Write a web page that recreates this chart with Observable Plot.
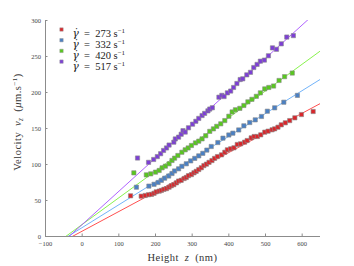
<!DOCTYPE html>
<html><head><meta charset="utf-8">
<script src="https://cdn.jsdelivr.net/npm/d3@7"></script>
<script src="https://cdn.jsdelivr.net/npm/@observablehq/plot@0.6"></script>
<style>
body{margin:0;background:#fff;}
#chart svg{display:block;}
#chart svg, #chart svg text, #chart svg tspan {font-family: "Liberation Serif", "DejaVu Serif", serif !important;}
#chart svg tspan.gam {font-family: "DejaVu Serif", serif !important;}
</style></head><body><div id="chart"></div>
<script>
const shearRates = ["273", "332", "420", "517"];
const markerColors = ["#d9262b", "#4a80c4", "#58c81e", "#7d3fd6"];
const lineColors = ["#ff3b3b", "#62aaf8", "#7cf03a", "#a650ff"];
const fitSlope = [0.273, 0.317, 0.371, 0.462];
const fitIntercept = [7.4, 12.4, 16.7, 16.6];
const xTicks = [-100, 0, 100, 200, 300, 400, 500, 600];
const yTicks = [0, 50, 100, 150, 200, 250, 300];
const xDomain = [-100, 650];
const yDomain = [0, 300];

const zRed = [132,161,172,181,189,196,202,210,216,223,230,237,243,250,257,263,270,278,284,290,298,305,311,318,325,332,339,346,354,361,369,380,389,396,405,414,423,432,443,450,461,469,478,487,498,507,518,525,534,543,554,566,580,598,630];
const vRed = [56.5,56,57,58,58.5,60,62,63,64,65.5,66.5,68.5,70.5,72,74.5,77,78,80.5,82,84.5,86,88.5,90.5,93,95.5,98.5,100.5,103,105.5,108.5,111,113.4,117,120.4,121.8,123.2,127.8,128.7,131,133.3,137,138.9,138.9,141.2,144.9,146.3,148.2,149.5,151.8,155.1,157.9,161,164.8,169.4,173.6];

const zBlue = [148,182,196,207,216,225,236,245,252,263,272,284,296,307,318,329,340,352,370,384,400,411,427,441,457,472,489,505,525,550,587];
const vBlue = [68.5,70,72.5,75,78,81,84,87.5,91,94,97.5,101,105,108.5,112,115.5,120,125,130.5,136.6,141,143.5,148,153.7,158.3,162,166.7,174,178.7,186.5,196];

const zGreen = [141,175,187,200,210,218,227,237,245,252,261,272,281,289,298,309,318,327,337,348,358,367,378,389,400,409,418,430,441,452,463,475,486,498,509,522,537,552,573];
const vGreen = [88.4,85.6,87,89.4,91.7,95.4,97.7,101,105.6,108.8,112.5,117,120.4,123,126.4,130,132.4,135.6,140,146,149.5,153,156.5,161,167,173,176,178,182,187,190.5,194.7,199.5,205,207,209,216.7,222,227];

const zPurple = [151,181,195,205,214,222,230,237,250,254,263,270,275,281,290,301,310,318,327,334,343,348,355,373,381,387,396,405,413,422,431,438,449,459,468,477,486,497,508,519,530,543,558,576];
const vPurple = [109,103,107,111,115,119.5,123,127,131,135.5,138,142,147,145,151,156,160,164,168,171,174.5,177,178.8,193.5,196,194.4,199.5,202,207,212.5,218,219,224.5,228,234.7,239,243.5,245,251,262,260,267.6,277,279];

const zSeries = [zRed, zBlue, zGreen, zPurple];
const vSeries = [vRed, vBlue, vGreen, vPurple];

const serif = "Liberation Serif, DejaVu Serif, serif";

const lineMarks = shearRates.map((s, i) =>
  Plot.line(xDomain.map(z => ({z, v: fitIntercept[i] + fitSlope[i] * z})),
    {x: "z", y: "v", stroke: lineColors[i], strokeWidth: 0.9, clip: true}));

const dotMarks = shearRates.map((s, i) =>
  Plot.dot(zSeries[i].map((z, j) => ({z, v: vSeries[i][j]})),
    {x: "z", y: "v", symbol: "square", r: 2.4, fill: markerColors[i], stroke: "#8a8a8a", strokeWidth: 0.6}));

const legendMarks = shearRates.flatMap((s, i) => [
  Plot.dot([s], {frameAnchor: "top-left", dx: 16, dy: 9 + i * 10.7, symbol: "square", r: 1.9, fill: markerColors[i], stroke: "#999", strokeWidth: 0.5}),
  Plot.text([s], {frameAnchor: "top-left", dx: 27, dy: 9.5 + i * 10.7, text: d => "γ = " + d + " s−1", textAnchor: "start", fontSize: 10.5, fill: "#222", className: "legtxt"})
]);

const plot = Plot.plot({
  width: 354, height: 266,
  marginLeft: 45, marginRight: 34, marginTop: 20, marginBottom: 30,
  style: {fontFamily: serif, background: "#fff"},
  x: {domain: xDomain},
  y: {domain: yDomain},
  marks: [
    ...lineMarks,
    ...dotMarks,
    Plot.ruleY([yDomain[0]], {stroke: "#8c8c8c", strokeWidth: 1}),
    Plot.ruleX([xDomain[0]], {stroke: "#8c8c8c", strokeWidth: 1}),
    Plot.axisX({ticks: xTicks, tickSize: -2.5, tickPadding: 7, fontSize: 6.5, stroke: "#8c8c8c", fill: "#444", label: null}),
    Plot.axisY({ticks: yTicks, tickSize: -2.5, tickPadding: 7, fontSize: 6.5, stroke: "#8c8c8c", fill: "#444", label: null}),
    ...legendMarks
  ]
});

document.getElementById("chart").appendChild(plot);

// rich text for legend entries
d3.select(plot).selectAll(".legtxt text").each(function() {
  const t = d3.select(this);
  const rate = t.text().match(/\d+/)[0];
  t.text(null);
  t.append("tspan").attr("class", "gam").attr("font-style", "italic").text("γ\u0307");
  t.append("tspan").text("\u2002=\u2002" + rate + " s");
  t.append("tspan").attr("dy", "-4").attr("font-size", "7").text("−1");
});

// axis labels
const xr = plot.scale("x").range, yr = plot.scale("y").range;
const svg = d3.select(plot);
const xl = svg.append("text").attr("x", (xr[0] + xr[1]) / 2).attr("y", 260.5)
  .attr("text-anchor", "middle").attr("font-size", 10.5).attr("fill", "#333").attr("letter-spacing", 0.5);
xl.append("tspan").text("Height\u2002");
xl.append("tspan").attr("font-style", "italic").text("z");
xl.append("tspan").text("\u2002(nm)");

const yl = svg.append("text").attr("transform", `translate(21,${(yr[0] + yr[1]) / 2 - 6}) rotate(-90)`)
  .attr("text-anchor", "middle").attr("font-size", 10.5).attr("fill", "#333").attr("letter-spacing", 0.5);
yl.append("tspan").text("Velocity\u2002");
yl.append("tspan").attr("font-style", "italic").text("v");
yl.append("tspan").attr("font-style", "italic").attr("font-size", 7.5).attr("dy", 2).text("z");
yl.append("tspan").attr("dy", -2).text("\u2002(");
yl.append("tspan").attr("font-style", "italic").text("μ");
yl.append("tspan").text("m.s");
yl.append("tspan").attr("font-size", 7).attr("dy", -4).text("−1");
yl.append("tspan").attr("dy", 4).text(")");
</script></body></html>
